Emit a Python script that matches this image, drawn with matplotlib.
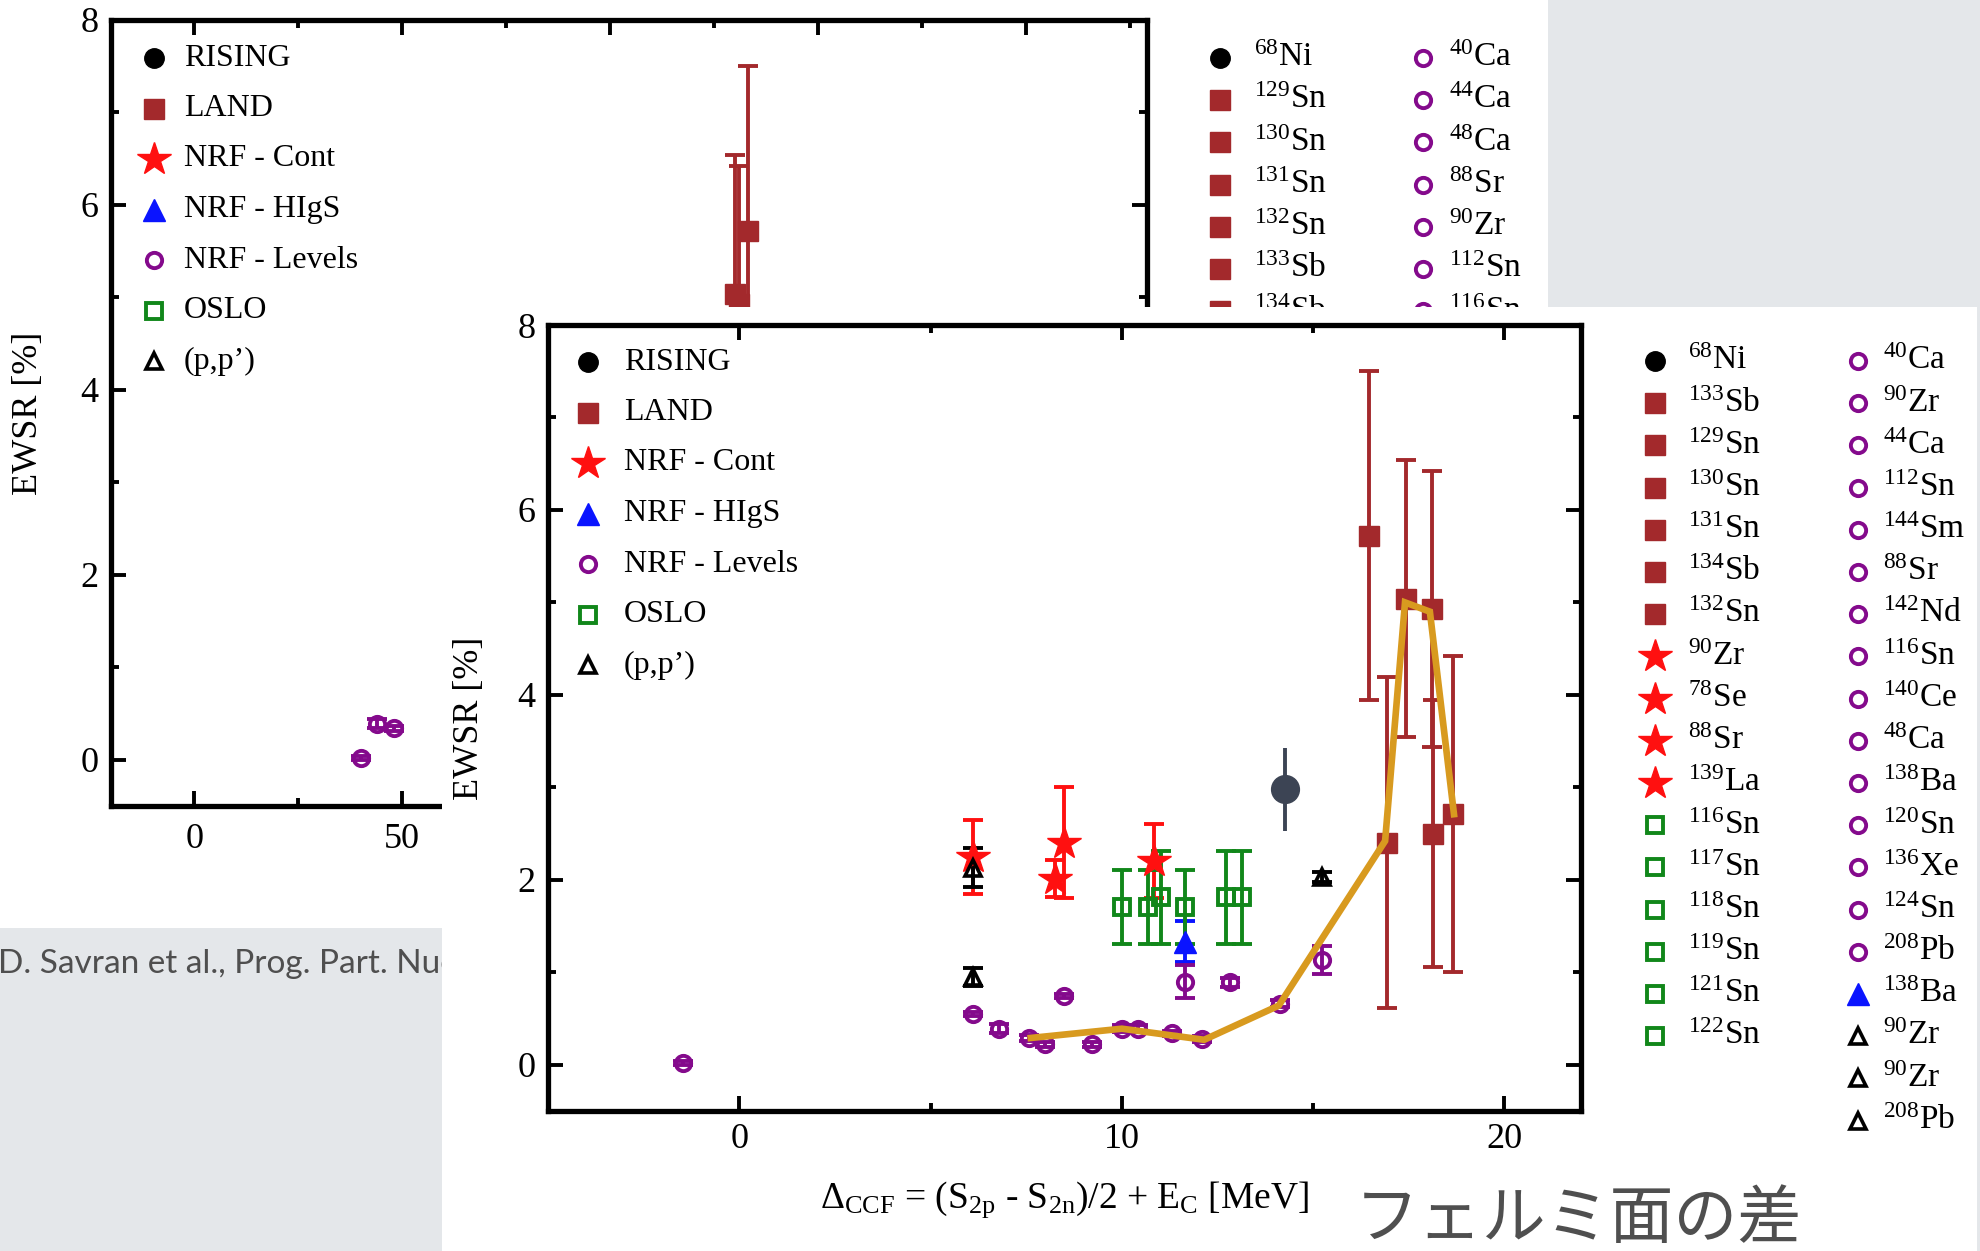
"""Slide snapshot: EWSR of low-lying E1 strength vs mass number (back)
and vs Delta_CCF (front), after D. Savran et al."""

import matplotlib

matplotlib.use("Agg")
import matplotlib.pyplot as plt  # noqa: E402
from matplotlib.ticker import MultipleLocator  # noqa: E402

plt.rcParams["font.family"] = ["Liberation Serif", "DejaVu Serif"]
plt.rcParams["mathtext.fontset"] = "custom"
plt.rcParams["mathtext.rm"] = "Liberation Serif"
plt.rcParams["mathtext.it"] = "Liberation Serif:italic"
plt.rcParams["mathtext.bf"] = "Liberation Serif:bold"

# ---- data (EWSR in %, x either mass number A or Delta_CCF in MeV) --------
rising_iso = ["68Ni"]
rising_mass = [68]
rising_dccf = [14.27]
rising_ewsr = [2.98]
rising_err = [0.45]

land_iso = ["133Sb", "129Sn", "130Sn", "131Sn", "134Sb", "132Sn"]
land_mass = [133, 129, 130, 131, 134, 132]
land_dccf = [16.47, 16.92, 17.43, 18.10, 18.14, 18.66]
land_ewsr = [5.72, 2.40, 5.04, 4.93, 2.50, 2.71]
land_err = [1.78, 1.79, 1.50, 1.49, 1.44, 1.71]

cont_iso = ["90Zr", "78Se", "88Sr", "139La"]
cont_mass = [90, 78, 88, 139]
cont_dccf = [6.10, 8.24, 8.49, 10.85]
cont_ewsr = [2.25, 2.01, 2.40, 2.20]
cont_err = [0.40, 0.20, 0.60, 0.40]

higs_iso = ["138Ba"]
higs_mass = [138]
higs_dccf = [11.65]
higs_ewsr = [1.33]
higs_err = [0.22]

levels_iso = ["40Ca", "90Zr", "44Ca", "112Sn", "144Sm", "88Sr", "142Nd", "116Sn",
              "140Ce", "48Ca", "138Ba", "120Sn", "136Xe", "124Sn", "208Pb"]
levels_mass = [40, 90, 44, 112, 144, 88, 142, 116, 140, 48, 138, 120, 136, 124, 208]
levels_dccf = [-1.48, 6.10, 6.79, 7.58, 7.99, 8.49, 9.23, 10.01,
               10.41, 11.30, 11.65, 12.09, 12.83, 14.12, 15.22]
levels_ewsr = [0.02, 0.55, 0.39, 0.29, 0.22, 0.74, 0.22, 0.39,
               0.39, 0.34, 0.90, 0.28, 0.89, 0.66, 1.13]
levels_err = [0.02, 0.02, 0.05, 0.03, 0.03, 0.02, 0.03, 0.04,
              0.04, 0.03, 0.18, 0.03, 0.05, 0.04, 0.15]

oslo_iso = ["116Sn", "117Sn", "118Sn", "119Sn", "121Sn", "122Sn"]
oslo_mass = [116, 117, 118, 119, 121, 122]
oslo_dccf = [10.01, 10.68, 11.03, 11.65, 12.71, 13.15]
oslo_ewsr = [1.71, 1.71, 1.81, 1.71, 1.81, 1.81]
oslo_err = [0.40, 0.40, 0.50, 0.40, 0.50, 0.50]

pp_iso = ["90Zr", "90Zr", "208Pb"]
pp_mass = [90, 90, 208]
pp_dccf = [6.10, 6.10, 15.22]
pp_ewsr = [2.13, 0.95, 2.03]
pp_err = [0.21, 0.10, 0.05]

# hand-drawn trend line on the slide
trend_dccf = [7.62, 10.0, 12.15, 14.1, 16.88, 17.40, 18.05, 18.68]
trend_ewsr = [0.29, 0.39, 0.27, 0.64, 2.42, 5.00, 4.90, 2.71]

method_labels = ["RISING", "LAND", "NRF - Cont", "NRF - HIgS",
                 "NRF - Levels", "OSLO", "(p,p\u2019)"]
method_keys = ["rising", "land", "cont", "higs", "levels", "oslo", "pp"]

back_iso_col1 = ["68Ni", "129Sn", "130Sn", "131Sn", "132Sn", "133Sb", "134Sb"]
back_iso_col2 = ["40Ca", "44Ca", "48Ca", "88Sr", "90Zr", "112Sn", "116Sn"]

citation = "D. Savran et al., Prog. Part. Nucl. Phys. 70, 210 (2013)"
note_jp = "フェルミ面の差"

SERIES = {
    "rising": (rising_mass, rising_dccf, rising_ewsr, rising_err),
    "land": (land_mass, land_dccf, land_ewsr, land_err),
    "cont": (cont_mass, cont_dccf, cont_ewsr, cont_err),
    "higs": (higs_mass, higs_dccf, higs_ewsr, higs_err),
    "levels": (levels_mass, levels_dccf, levels_ewsr, levels_err),
    "oslo": (oslo_mass, oslo_dccf, oslo_ewsr, oslo_err),
    "pp": (pp_mass, pp_dccf, pp_ewsr, pp_err),
}

# ---- styles ------------------------------------------------------------
BROWN = "#a3292c"
RED = "#ff1010"
BLUE = "#0a14ff"
PURPLE = "#840a8c"
GREEN = "#11871a"
SLATE = "#3c4454"
GOLD = "#d89a1f"
SLIDE = "#e4e7ea"
TEXT_GRAY = "#4f4f4f"

MARK = {
    "rising": dict(marker="o", ms=14, mfc="black", mec="black", mew=1),
    "land": dict(marker="s", ms=14, mfc=BROWN, mec=BROWN, mew=1),
    "cont": dict(marker="*", ms=25, mfc=RED, mec=RED, mew=1),
    "higs": dict(marker="^", ms=16, mfc=BLUE, mec=BLUE, mew=1),
    "levels": dict(marker="o", ms=11, mfc="none", mec=PURPLE, mew=2.8),
    "oslo": dict(marker="s", ms=12, mfc="none", mec=GREEN, mew=2.8),
    "pp": dict(marker="^", ms=12, mfc="none", mec="black", mew=2.6),
}
ECOLOR = {"rising": SLATE, "land": BROWN, "cont": RED, "higs": BLUE,
          "levels": PURPLE, "oslo": GREEN, "pp": "black"}

W, H = 1980, 1251
fig = plt.figure(figsize=(W / 100, H / 100), dpi=100)
fig.patch.set_facecolor(SLIDE)


def px_axes(x0, y0, x1, y1, zorder, facecolor):
    ax = fig.add_axes([x0 / W, 1 - y1 / H, (x1 - x0) / W, (y1 - y0) / H],
                      zorder=zorder)
    ax.set_facecolor(facecolor)
    return ax


def panel(x0, y0, x1, y1, zorder, facecolor):
    """Blank axes whose data coordinates are figure pixels (y down)."""
    ax = px_axes(x0, y0, x1, y1, zorder, facecolor)
    ax.set_xlim(x0, x1)
    ax.set_ylim(y1, y0)
    ax.set_xticks([])
    ax.set_yticks([])
    for s in ax.spines.values():
        s.set_visible(False)
    return ax


def iso_label(iso):
    digits = "".join(c for c in iso if c.isdigit())
    return rf"$^{{{digits}}}$" + iso[len(digits):]


def style_axes(ax, xmajor, xminor, xpad):
    for s in ax.spines.values():
        s.set_linewidth(3.8)
    ax.xaxis.set_major_locator(MultipleLocator(xmajor))
    ax.xaxis.set_minor_locator(MultipleLocator(xminor))
    ax.yaxis.set_major_locator(MultipleLocator(2))
    ax.yaxis.set_minor_locator(MultipleLocator(1))
    ax.tick_params(which="both", direction="in", top=True, right=True,
                   width=2.8, labelsize=26)
    ax.tick_params(which="major", length=11)
    ax.tick_params(which="minor", length=6)
    ax.tick_params(axis="x", pad=xpad)
    ax.tick_params(axis="y", pad=9)
    ax.set_ylim(-0.5, 8.0)


def draw_data(ax, xcol):
    for key, cols in SERIES.items():
        x, y, err = cols[xcol], cols[2], cols[3]
        z = 3
        ax.errorbar(x, y, yerr=err, fmt="none", ecolor=ECOLOR[key],
                    elinewidth=2.8, capsize=0 if key == "rising" else 7,
                    capthick=2.8, zorder=z)
        mk = dict(MARK[key])
        if key == "rising":
            mk.update(ms=20, mfc=SLATE, mec=SLATE)
        ax.plot(x, y, ls="none", zorder=z + 1, **mk)


def method_legend(ax, mx, tx, y0, dy):
    for i, (key, label) in enumerate(zip(method_keys, method_labels)):
        y = y0 + i * dy
        ax.plot([mx], [y], ls="none", **MARK[key])
        ax.text(tx, y, label, ha="left", va="center", fontsize=23)


def iso_legend(ax, isos, keys, mx, tx, y0, dy):
    for i, (iso, key) in enumerate(zip(isos, keys)):
        y = y0 + i * dy
        ax.plot([mx], [y], ls="none", **MARK[key])
        ax.text(tx, y, iso_label(iso), ha="left", va="center", fontsize=24)


# slide background with the citation line
bg = panel(0, 0, W, H, 0, "none")
bg.text(-2, 963, citation, ha="left", va="center", fontsize=24,
        family=["Lato", "DejaVu Sans"], color=TEXT_GRAY)

# ---- back picture: EWSR vs mass number --------------------------------
back = panel(0, 0, 1548, 928, 1, "white")
back_ax = px_axes(111, 20, 1147, 806, 2, "none")
draw_data(back_ax, 0)
style_axes(back_ax, 50, 25, 12)
back_ax.set_xlim(-20, 229)
back_ax.set_ylabel("EWSR [%]", fontsize=26)
back_ax.yaxis.set_label_coords(-0.064, 0.5)
method_legend(back, 154, 184, 58, 50.5)
iso_legend(back, back_iso_col1, ["rising"] + ["land"] * 6, 1220, 1254, 58, 42.2)
iso_legend(back, back_iso_col2, ["levels"] * 7, 1423, 1449, 58, 42.2)

# ---- front picture: EWSR vs Delta_CCF ---------------------------------
front = panel(442, 307, 1977, H, 3, "white")
ax = px_axes(548, 325, 1581, 1111, 4, "none")
draw_data(ax, 1)
ax.plot(trend_dccf, trend_ewsr, color=GOLD, lw=4.8, zorder=10,
        solid_joinstyle="miter")
style_axes(ax, 10, 5, 9)
ax.set_xlim(-5, 22)
ax.set_ylabel("EWSR [%]", fontsize=26)
ax.yaxis.set_label_coords(-0.06, 0.5)
ax.set_xlabel(r"$\Delta_{\mathrm{CCF}}$ = (S$_{\mathrm{2p}}$ - S$_{\mathrm{2n}}$)/2"
              r" + E$_{\mathrm{C}}$ [MeV]", fontsize=27)
ax.xaxis.set_label_coords(0.5, -0.087)

method_legend(front, 588, 624, 362, 50.5)
col1_keys = (["rising"] * len(rising_iso) + ["land"] * len(land_iso)
             + ["cont"] * len(cont_iso) + ["oslo"] * len(oslo_iso))
col2_keys = (["levels"] * len(levels_iso) + ["higs"] * len(higs_iso)
             + ["pp"] * len(pp_iso))
iso_legend(front, rising_iso + land_iso + cont_iso + oslo_iso, col1_keys,
           1655, 1688, 361, 42.2)
iso_legend(front, levels_iso + higs_iso + pp_iso, col2_keys,
           1858, 1883, 361, 42.2)

front.text(1578, 1220, note_jp, ha="center", va="center", fontsize=46,
           family=["Noto Sans CJK JP", "DejaVu Sans"], color=TEXT_GRAY)

fig.savefig("out.png", dpi=100, facecolor=fig.get_facecolor())
